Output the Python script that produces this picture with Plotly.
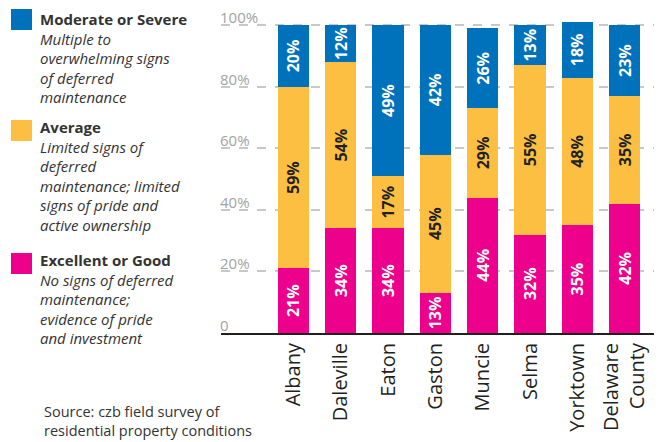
import plotly.graph_objects as go

towns = ["Albany", "Daleville", "Eaton", "Gaston", "Muncie", "Selma", "Yorktown", "Delaware<br>County"]
excellent_good = [21, 34, 34, 13, 44, 32, 35, 42]
average = [59, 54, 17, 45, 29, 55, 48, 35]
moderate_severe = [20, 12, 49, 42, 26, 13, 18, 23]
y_ticks = [0, 20, 40, 60, 80, 100]
y_tick_labels = ["0", "20%", "40%", "60%", "80%", "100%"]

BLUE = "#0072BC"
YELLOW = "#FDBF41"
PINK = "#EC008C"
FONT = "Open Sans"
TXT = "#333333"

# page offset of the figure div (browser default body margin)
O = 8
W, H = 662 - O, 442 - O
L, R, T, B = 221 - O, 7, 16 - O, 109
PW, PH = W - L - R, H - T - B


def px_x(px):
    return (px - O - L) / PW


def px_y(py):
    return (H - B - (py - O)) / PH


fig = go.Figure()
for name, vals, color, tcolor in [
    ("Excellent or Good", excellent_good, PINK, "white"),
    ("Average", average, YELLOW, "#231f20"),
    ("Moderate or Severe", moderate_severe, BLUE, "white"),
]:
    fig.add_trace(go.Bar(
        x=towns, y=vals, name=name, marker=dict(color=color, line=dict(width=0)),
        text=[f"<b>{v}%</b>" for v in vals], textposition="inside",
        textangle=-90, insidetextanchor="middle", constraintext="none",
        textfont=dict(family=FONT, size=16, color=tcolor),
        width=0.66, hoverinfo="skip",
    ))

annotations = []
for v, lab in zip(y_ticks, y_tick_labels):
    annotations.append(dict(x=0, xref="paper", y=v, yref="y", text=lab,
                            showarrow=False, xanchor="left", yanchor="bottom",
                            yshift=-3, xshift=-2, borderpad=0,
                            font=dict(family=FONT, size=15, color="#a3a3a3")))

legend_items = [
    ("Moderate or Severe", ["Multiple to", "overwhelming signs", "of deferred", "maintenance"], BLUE, 9, 8),
    ("Average", ["Limited signs of", "deferred", "maintenance; limited", "signs of pride and", "active ownership"], YELLOW, 120, 116),
    ("Excellent or Good", ["No signs of deferred", "maintenance;", "evidence of pride", "and investment"], PINK, 253, 249),
]
shapes = []
for title, lines, color, sq_top, txt_top in legend_items:
    shapes.append(dict(type="rect", xref="paper", yref="paper",
                       x0=px_x(11), x1=px_x(32), y0=px_y(sq_top + 21), y1=px_y(sq_top),
                       fillcolor=color, line=dict(width=0)))
    text = f"<b>{title}</b><br>" + "<br>".join(f"<i>{s}</i>" for s in lines)
    annotations.append(dict(x=px_x(39), xref="paper", y=px_y(txt_top), yref="paper",
                            text=text, showarrow=False, xanchor="left", yanchor="top",
                            align="left", borderpad=0,
                            font=dict(family=FONT, size=15, color=TXT)))

annotations.append(dict(x=px_x(43), xref="paper", y=px_y(441), yref="paper",
                        text="Source: czb field survey of<br>residential property conditions",
                        showarrow=False, xanchor="left", yanchor="bottom", align="left",
                        borderpad=0, font=dict(family=FONT, size=14.5, color=TXT)))

fig.update_layout(
    width=W, height=H, barmode="stack", showlegend=False,
    margin=dict(l=L, r=R, t=T, b=B, autoexpand=False),
    paper_bgcolor="white", plot_bgcolor="white",
    font=dict(family=FONT, color=TXT),
    xaxis=dict(range=[-1.53, 7.64], showline=True, linecolor="#231f20", linewidth=2,
               tickangle=-90, ticks="", tickfont=dict(family=FONT, size=20, color="#231f20"),
               showgrid=False, automargin=False),
    yaxis=dict(range=[0, 103], tickvals=[20, 40, 60, 80, 100], showticklabels=False,
               showgrid=True, gridcolor="#c8c8c8", gridwidth=2, griddash="dash",
               zeroline=False, automargin=False),
    annotations=annotations, shapes=shapes,
    uniformtext=dict(minsize=16, mode="show"),
)

fig.write_html("out.html")
